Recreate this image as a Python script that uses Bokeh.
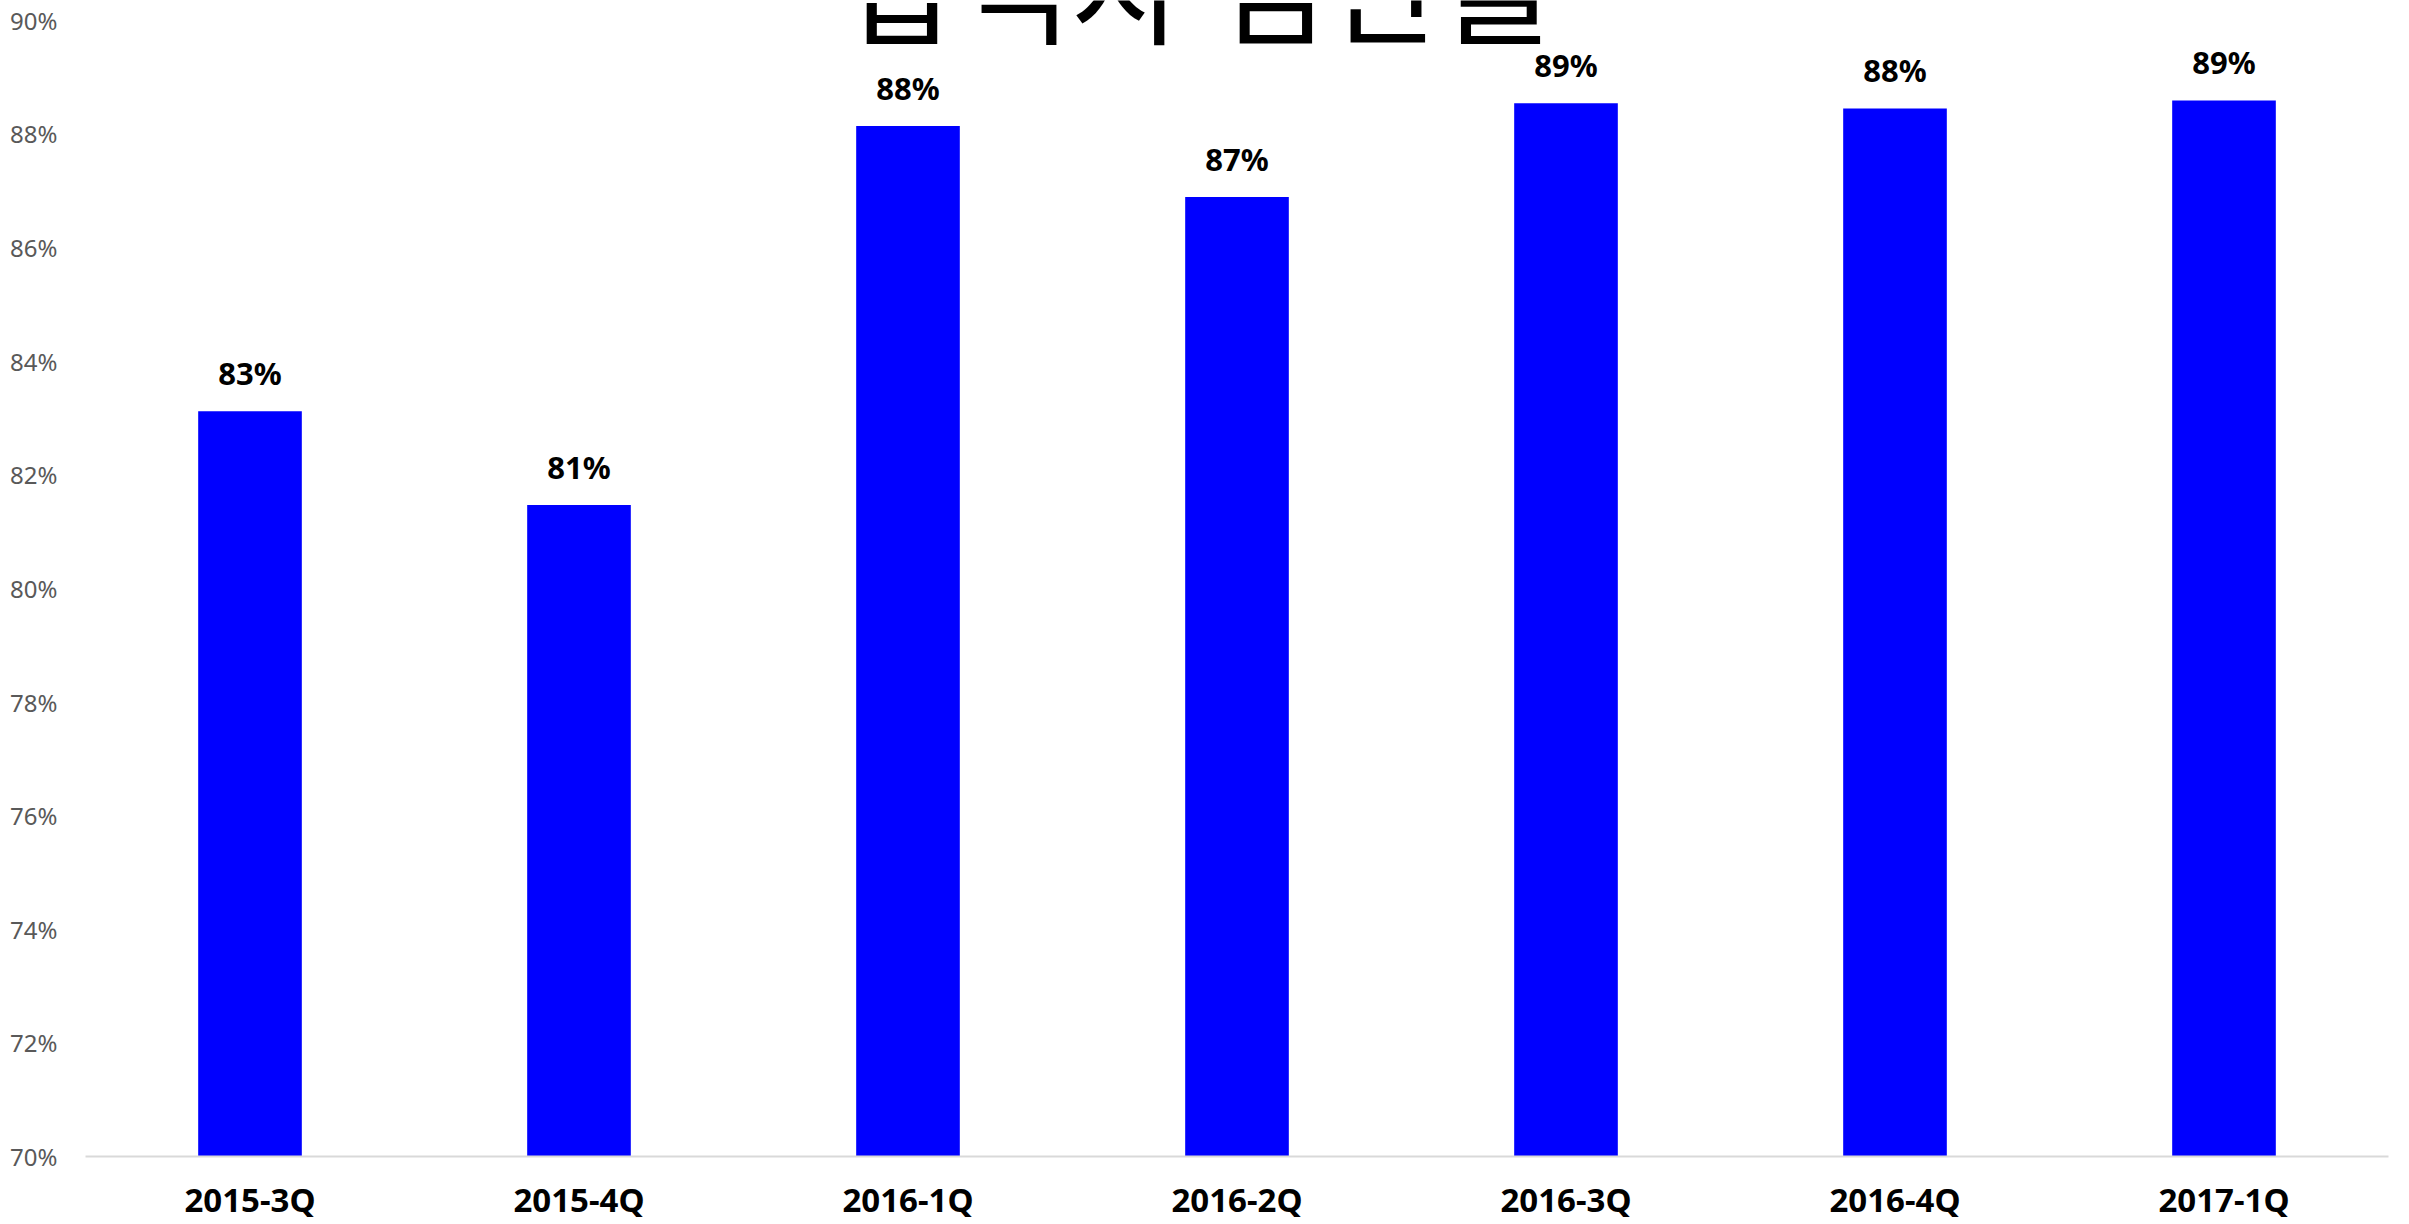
from bokeh.plotting import figure
from bokeh.models import FactorRange, Range1d, FixedTicker, Label, ColumnDataSource
from bokeh.core.properties import value
from bokeh.embed import file_html
from bokeh.resources import INLINE

title_text = "합격자  임관율"
categories = ["2015-3Q", "2015-4Q", "2016-1Q", "2016-2Q", "2016-3Q", "2016-4Q", "2017-1Q"]
values = [83.12, 81.47, 88.14, 86.89, 88.54, 88.45, 88.59]
value_labels = ["83%", "81%", "88%", "87%", "89%", "88%", "89%"]
y_ticks = [70, 72, 74, 76, 78, 80, 82, 84, 86, 88, 90]
y_tick_labels = ["70%", "72%", "74%", "76%", "78%", "80%", "82%", "84%", "86%", "88%", "90%"]

src = ColumnDataSource(data=dict(cat=categories, val=values, lab=value_labels))

p = figure(
    width=2405, height=1224,
    x_range=FactorRange(*categories, range_padding=0),
    y_range=Range1d(70, 90.35),
    output_backend="svg", toolbar_location=None,
    min_border_left=85, min_border_right=17, min_border_top=0, min_border_bottom=67,
)
p.outline_line_color = None
p.xgrid.grid_line_color = None
p.ygrid.grid_line_color = None
p.background_fill_color = "white"
p.border_fill_color = "white"

p.vbar(x="cat", top="val", bottom=70, width=0.315, source=src,
       fill_color="#0000FF", line_color=None)

p.text(x="cat", y="val", text="lab", source=src,
       text_align="center", text_baseline="alphabetic", y_offset=-38,
       text_font=value("Noto Sans"), text_font_style="bold",
       text_font_size="31px", text_color="#000000")

# y axis
p.yaxis.ticker = FixedTicker(ticks=y_ticks)
p.yaxis.major_label_overrides = {t: l for t, l in zip(y_ticks, y_tick_labels)}
p.yaxis.axis_line_color = None
p.yaxis.major_tick_line_color = None
p.yaxis.minor_tick_line_color = None
p.yaxis.major_label_text_font = "Noto Sans"
p.yaxis.major_label_text_font_size = "24px"
p.yaxis.major_label_text_color = "#595959"
p.yaxis.major_label_standoff = 22

# x axis
p.xaxis.axis_line_color = "#d9d9d9"
p.xaxis.axis_line_width = 2
p.xaxis.major_tick_line_color = None
p.xaxis.minor_tick_line_color = None
p.xaxis.major_tick_out = 0
p.xaxis.major_label_text_font = "Noto Sans"
p.xaxis.major_label_text_font_style = "bold"
p.xaxis.major_label_text_font_size = "33px"
p.xaxis.major_label_text_color = "#000000"
p.xaxis.major_label_standoff = 20

title = Label(x=3.43, y=90.7, x_units="data", y_units="data", text=title_text,
              text_align="center", text_baseline="alphabetic",
              text_font="Noto Sans CJK KR", text_font_size="124px",
              text_color="#000000")
p.add_layout(title)

open("out.html", "w").write(file_html(p, INLINE))
